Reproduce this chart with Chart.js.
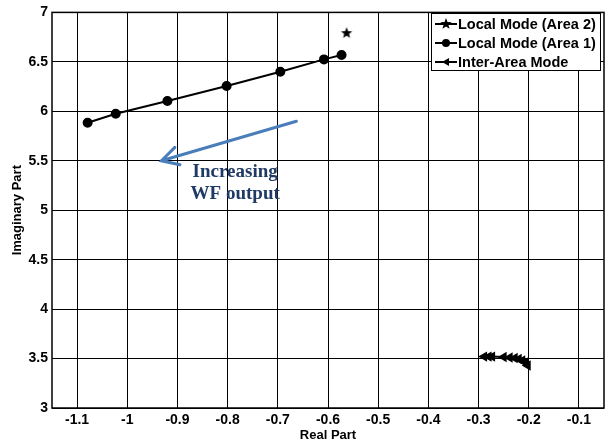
<!DOCTYPE html>
<html lang="en">
<head>
    <meta charset="UTF-8">
    <title>Eigenvalue Trajectories</title>
    <style>
        * { margin: 0; padding: 0; box-sizing: border-box; }
        body { background: #fff; width: 611px; height: 443px; overflow: hidden; }
        #chart-container { width: 611px; height: 443px; position: relative; }
    </style>
</head>
<body>
    <div id="chart-container">
        <canvas id="eigChart" width="611" height="443"></canvas>
    </div>

    <script src="https://cdn.jsdelivr.net/npm/chart.js"></script>
    <script>
        // Local mode (Area 2) - single point
        const area2Real = [-0.563];
        const area2Imag = [6.79];

        // Local mode (Area 1)
        const area1Real = [-1.079, -1.023, -0.920, -0.802, -0.695, -0.608, -0.573];
        const area1Imag = [5.885, 5.975, 6.105, 6.255, 6.400, 6.525, 6.570];

        // Inter-area mode
        const interReal = [-0.289, -0.280, -0.273, -0.250, -0.238, -0.228, -0.220, -0.213, -0.207, -0.202];
        const interImag = [3.52, 3.52, 3.52, 3.515, 3.51, 3.505, 3.495, 3.48, 3.46, 3.43];

        // Axis ticks
        const xTicks = [-1.1, -1, -0.9, -0.8, -0.7, -0.6, -0.5, -0.4, -0.3, -0.2, -0.1];
        const yTicks = [3, 3.5, 4, 4.5, 5, 5.5, 6, 6.5, 7];

        // Annotation arrow (data units) and label
        const arrowFrom = [-0.663, 5.90];
        const arrowTo = [-0.932, 5.50];
        const noteAt = [-0.785, 5.335];
        const noteLines = ['Increasing', 'WF output'];

        const legendNames = ['Local Mode (Area 2)', 'Local Mode (Area 1)', 'Inter-Area Mode'];

        function toPoints(xs, ys) {
            return xs.map((x, i) => ({ x: x, y: ys[i] }));
        }

        // filled five-point star marker
        function makeStar(r) {
            const c = document.createElement('canvas');
            c.width = c.height = r * 2 + 2;
            const g = c.getContext('2d');
            g.beginPath();
            for (let i = 0; i < 10; i++) {
                const rad = i % 2 === 0 ? r : r * 0.42;
                const a = -Math.PI / 2 + i * Math.PI / 5;
                const px = r + 1 + rad * Math.cos(a);
                const py = r + 1 + rad * Math.sin(a);
                if (i === 0) g.moveTo(px, py); else g.lineTo(px, py);
            }
            g.closePath();
            g.fillStyle = '#000';
            g.fill();
            return c;
        }
        const starImg = makeStar(6);

        const boxAndNotes = {
            id: 'boxAndNotes',
            afterDatasetsDraw(chart) {
                const ctx = chart.ctx;
                const a = chart.chartArea;
                const xs = chart.scales.x, ys = chart.scales.y;
                ctx.save();

                // plot box
                ctx.strokeStyle = '#000';
                ctx.lineWidth = 1.5;
                ctx.strokeRect(a.left, a.top, a.right - a.left, a.bottom - a.top);

                // arrow
                const x0 = xs.getPixelForValue(arrowFrom[0]), y0 = ys.getPixelForValue(arrowFrom[1]);
                const x1 = xs.getPixelForValue(arrowTo[0]), y1 = ys.getPixelForValue(arrowTo[1]);
                ctx.strokeStyle = '#4a7ebb';
                ctx.lineWidth = 3;
                ctx.lineCap = 'round';
                ctx.beginPath();
                ctx.moveTo(x0, y0);
                ctx.lineTo(x1, y1);
                const ang = Math.atan2(y0 - y1, x0 - x1);
                const head = 19;
                ctx.moveTo(x1 + head * Math.cos(ang - 0.5), y1 + head * Math.sin(ang - 0.5));
                ctx.lineTo(x1, y1);
                ctx.lineTo(x1 + head * Math.cos(ang + 0.5), y1 + head * Math.sin(ang + 0.5));
                ctx.stroke();

                // note text
                ctx.fillStyle = '#1f3a64';
                ctx.font = 'bold 19px "Liberation Serif", serif';
                ctx.textAlign = 'center';
                ctx.textBaseline = 'alphabetic';
                const nx = xs.getPixelForValue(noteAt[0]), ny = ys.getPixelForValue(noteAt[1]);
                noteLines.forEach((t, i) => ctx.fillText(t, nx, ny + i * 22));

                // legend
                const lx = 431, ly = 13, lw = 169, lh = 57;
                ctx.fillStyle = '#fff';
                ctx.fillRect(lx, ly, lw, lh);
                ctx.strokeStyle = '#000';
                ctx.lineWidth = 1;
                ctx.lineCap = 'butt';
                ctx.strokeRect(lx + 0.5, ly + 0.5, lw, lh);
                ctx.font = 'bold 14.5px "Liberation Sans", Arial, sans-serif';
                ctx.textAlign = 'left';
                ctx.textBaseline = 'middle';
                legendNames.forEach((name, i) => {
                    const ry = ly + 11 + i * 19;
                    ctx.strokeStyle = '#000';
                    ctx.lineWidth = 2;
                    ctx.beginPath();
                    ctx.moveTo(lx + 4, ry);
                    ctx.lineTo(lx + 26, ry);
                    ctx.stroke();
                    ctx.fillStyle = '#000';
                    const mx = lx + 15;
                    if (i === 0) {
                        ctx.drawImage(starImg, mx - 7, ry - 7);
                    } else if (i === 1) {
                        ctx.beginPath();
                        ctx.arc(mx, ry, 4, 0, Math.PI * 2);
                        ctx.fill();
                    } else {
                        ctx.beginPath();
                        ctx.moveTo(mx - 4, ry);
                        ctx.lineTo(mx + 3, ry - 4);
                        ctx.lineTo(mx + 3, ry + 4);
                        ctx.closePath();
                        ctx.fill();
                    }
                    ctx.fillText(name, lx + 27, ry + 1);
                });
                ctx.restore();
            }
        };

        const tickFont = { family: '"Liberation Sans", Arial, sans-serif', size: 14, weight: 'bold' };
        const titleFont = { family: '"Liberation Sans", Arial, sans-serif', size: 13, weight: 'bold' };

        new Chart(document.getElementById('eigChart').getContext('2d'), {
            type: 'scatter',
            data: {
                datasets: [
                    {
                        label: legendNames[0],
                        data: toPoints(area2Real, area2Imag),
                        pointStyle: starImg,
                        showLine: false,
                        borderColor: '#000',
                        backgroundColor: '#000'
                    },
                    {
                        label: legendNames[1],
                        data: toPoints(area1Real, area1Imag),
                        showLine: true,
                        borderColor: '#000',
                        backgroundColor: '#000',
                        borderWidth: 2,
                        pointRadius: 4,
                        pointStyle: 'circle'
                    },
                    {
                        label: legendNames[2],
                        data: toPoints(interReal, interImag),
                        showLine: true,
                        borderColor: '#000',
                        backgroundColor: '#000',
                        borderWidth: 2,
                        pointRadius: 4,
                        pointStyle: 'triangle',
                        rotation: -90
                    }
                ]
            },
            options: {
                responsive: false,
                animation: false,
                layout: { padding: { top: 10, right: 7, left: 0, bottom: 0 } },
                plugins: {
                    legend: { display: false },
                    tooltip: { enabled: false }
                },
                scales: {
                    x: {
                        type: 'linear',
                        min: -1.15,
                        max: -0.05,
                        afterBuildTicks: s => { s.ticks = xTicks.map(v => ({ value: v })); },
                        afterFit: s => { s.height = 35; },
                        grid: { color: '#000', lineWidth: 1, drawTicks: false },
                        border: { display: false },
                        ticks: {
                            color: '#000', font: tickFont, padding: 4, maxRotation: 0, autoSkip: false,
                            callback: v => String(v)
                        },
                        title: { display: true, text: 'Real Part', color: '#000', font: titleFont, padding: 0 }
                    },
                    y: {
                        type: 'linear',
                        min: 3,
                        max: 7,
                        afterBuildTicks: s => { s.ticks = yTicks.map(v => ({ value: v })); },
                        afterFit: s => { s.width = 52; },
                        grid: { color: '#000', lineWidth: 1, drawTicks: false },
                        border: { display: false },
                        ticks: {
                            color: '#000', font: tickFont, padding: 4, autoSkip: false,
                            callback: v => String(v)
                        },
                        title: { display: true, text: 'Imaginary Part', color: '#000', font: titleFont, padding: { top: 10, bottom: 0 } }
                    }
                }
            },
            plugins: [boxAndNotes]
        });
    </script>
</body>
</html>
